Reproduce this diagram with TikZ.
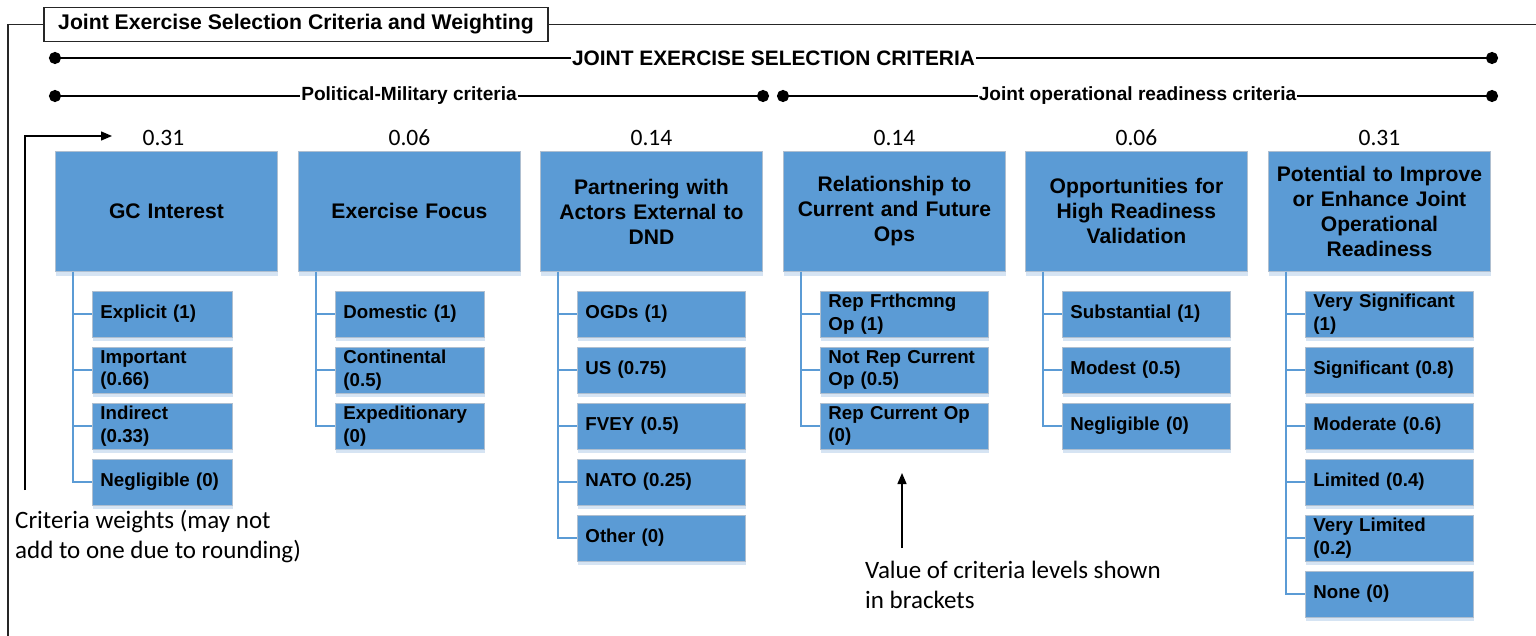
\documentclass[tikz,border=0pt]{standalone}
\usepackage{fontspec}
\setmainfont{Liberation Sans}
\newfontfamily\calib{Carlito}
\usetikzlibrary{arrows.meta,shadows}
\definecolor{boxblue}{HTML}{5B9BD5}
\definecolor{bordc}{HTML}{AFBFD0}
\definecolor{shadc}{HTML}{D6E4F3}
\begin{document}
\begin{tikzpicture}[x=1pt,y=-1pt,
  frame/.style={line width=1.3pt, draw=black!85},
  titlebox/.style={draw=black!85, line width=1.2pt, fill=white, minimum width=504pt, minimum height=34pt, inner sep=0pt, font=\fontsize{21.2}{25}\selectfont\bfseries},
  bline/.style={line width=2.6pt, {Circle[length=12pt]}-{Circle[length=12pt]}},
  blbl/.style={fill=white, inner xsep=1pt, inner ysep=2pt, font=\fontsize{20.9}{25}\selectfont\bfseries},
  blbl2/.style={fill=white, inner xsep=1pt, inner ysep=2pt, font=\fontsize{19.1}{23}\selectfont\bfseries},
  topbox/.style={draw=bordc, line width=0.9pt, fill=boxblue, minimum width=222pt, minimum height=120pt, text width=214pt, align=center, inner sep=0pt, anchor=north west, font=\fontsize{21.1}{25}\selectfont\bfseries, general shadow={fill=shadc, shadow yshift=-5pt, shadow xshift=1pt}},
  subbox/.style 2 args={draw=bordc, line width=0.9pt, fill=boxblue, minimum width=#1pt, text width=#2pt, minimum height=46pt, inner xsep=8pt, inner ysep=0pt, align=left, anchor=west, font=\fontsize{18.7}{22.8}\selectfont\bfseries, general shadow={fill=shadc, shadow yshift=-4pt, shadow xshift=1pt}},
  conn/.style={draw=boxblue, line width=2pt},
  wt/.style={font=\calib\fontsize{23.5}{27}\selectfont, inner sep=0pt},
  note/.style={font=\calib\fontsize{25}{30}\selectfont, align=left, inner sep=0pt, anchor=west},
  arr/.style={line width=1.4pt, draw=black, -{Triangle[length=11pt,width=9pt]}}
]
\useasboundingbox (0,0) rectangle (1536,636);

% outer frame and title
\node[titlebox] (title) at (296,24.5) {Joint Exercise Selection Criteria and Weighting};
\coordinate (f1) at (8,24.5);
\coordinate (f2) at (8,636);
\coordinate (f3) at (1536,24.5);
\draw[frame] (title.west) -- (f1) -- (f2);
\draw[frame] (title.east) -- (f3);

% bullet lines
\coordinate (j1) at (49,58);  \coordinate (j2) at (1498,58);
\coordinate (p1) at (49,96);  \coordinate (p2) at (769,96);
\coordinate (o1) at (777,96); \coordinate (o2) at (1498,96);
\draw[bline] (j1) -- (j2) node[midway, blbl] (jl) {JOINT EXERCISE SELECTION CRITERIA};
\draw[bline] (p1) -- (p2) node[midway, blbl2] (pl) {Political-Military criteria};
\draw[bline] (o1) -- (o2) node[midway, blbl2] (ol) {Joint operational readiness criteria};

% top boxes
\node[topbox] (t1) at (55,151)   {GC Interest};
\node[topbox] (t2) at (298,151)  {Exercise Focus};
\node[topbox] (t3) at (540,151)  {Partnering with\\Actors External to\\DND};
\node[topbox] (t4) at (783,151)  {Relationship to\\Current and Future\\Ops};
\node[topbox] (t5) at (1025,151) {Opportunities for\\High Readiness\\Validation};
\node[topbox] (t6) at (1268,151) {Potential to Improve\\or Enhance Joint\\Operational\\Readiness};

% weights
\node[wt] (w1) at ([yshift=13pt,xshift=-3pt]t1.north) {0.31};
\node[wt] (w2) at ([yshift=13pt]t2.north) {0.06};
\node[wt] (w3) at ([yshift=13pt]t3.north) {0.14};
\node[wt] (w4) at ([yshift=13pt]t4.north) {0.14};
\node[wt] (w5) at ([yshift=13pt]t5.north) {0.06};
\node[wt] (w6) at ([yshift=13pt]t6.north) {0.31};

% sub boxes: GC Interest
\node[subbox={140}{124}] (s11) at (92,314) {Explicit (1)};
\node[subbox={140}{124}] (s12) at (92,370) {Important\\(0.66)};
\node[subbox={140}{124}] (s13) at (92,426) {Indirect\\(0.33)};
\node[subbox={140}{124}] (s14) at (92,482) {Negligible (0)};
% Exercise Focus
\node[subbox={149}{133}] (s21) at (335,314) {Domestic (1)};
\node[subbox={149}{133}] (s22) at (335,370) {Continental\\(0.5)};
\node[subbox={149}{133}] (s23) at (335,426) {Expeditionary\\(0)};
% Partnering
\node[subbox={168}{152}] (s31) at (577,314) {OGDs (1)};
\node[subbox={168}{152}] (s32) at (577,370) {US (0.75)};
\node[subbox={168}{152}] (s33) at (577,426) {FVEY (0.5)};
\node[subbox={168}{152}] (s34) at (577,482) {NATO (0.25)};
\node[subbox={168}{152}] (s35) at (577,538) {Other (0)};
% Relationship
\node[subbox={168}{152}] (s41) at (820,314) {Rep Frthcmng\\Op (1)};
\node[subbox={168}{152}] (s42) at (820,370) {Not Rep Current\\Op (0.5)};
\node[subbox={168}{152}] (s43) at (820,426) {Rep Current Op\\(0)};
% Opportunities
\node[subbox={168}{152}] (s51) at (1062,314) {Substantial (1)};
\node[subbox={168}{152}] (s52) at (1062,370) {Modest (0.5)};
\node[subbox={168}{152}] (s53) at (1062,426) {Negligible (0)};
% Potential
\node[subbox={168}{152}] (s61) at (1305,314) {Very Significant\\(1)};
\node[subbox={168}{152}] (s62) at (1305,370) {Significant (0.8)};
\node[subbox={168}{152}] (s63) at (1305,426) {Moderate (0.6)};
\node[subbox={168}{152}] (s64) at (1305,482) {Limited (0.4)};
\node[subbox={168}{152}] (s65) at (1305,538) {Very Limited\\(0.2)};
\node[subbox={168}{152}] (s66) at (1305,594) {None (0)};

% connectors
\foreach \i in {1,...,4} \draw[conn] ([xshift=18pt]t1.south west) |- (s1\i.west);
\foreach \i in {1,...,3} \draw[conn] ([xshift=18pt]t2.south west) |- (s2\i.west);
\foreach \i in {1,...,5} \draw[conn] ([xshift=18pt]t3.south west) |- (s3\i.west);
\foreach \i in {1,...,3} \draw[conn] ([xshift=18pt]t4.south west) |- (s4\i.west);
\foreach \i in {1,...,3} \draw[conn] ([xshift=18pt]t5.south west) |- (s5\i.west);
\foreach \i in {1,...,6} \draw[conn] ([xshift=18pt]t6.south west) |- (s6\i.west);

% annotations
\node[note] (n1) at (15,537) {Criteria weights (may not\\add to one due to rounding)};
\coordinate (a1) at (25,490);
\coordinate (a2) at (112,136);
\draw[arr] (a1) |- (a2);

\node[note] (n2) at (865,585) {Value of criteria levels shown\\in brackets};
\coordinate (b1) at (902,548);
\coordinate (b2) at (902,473);
\draw[arr] (b1) -- (b2);
\end{tikzpicture}
\end{document}
